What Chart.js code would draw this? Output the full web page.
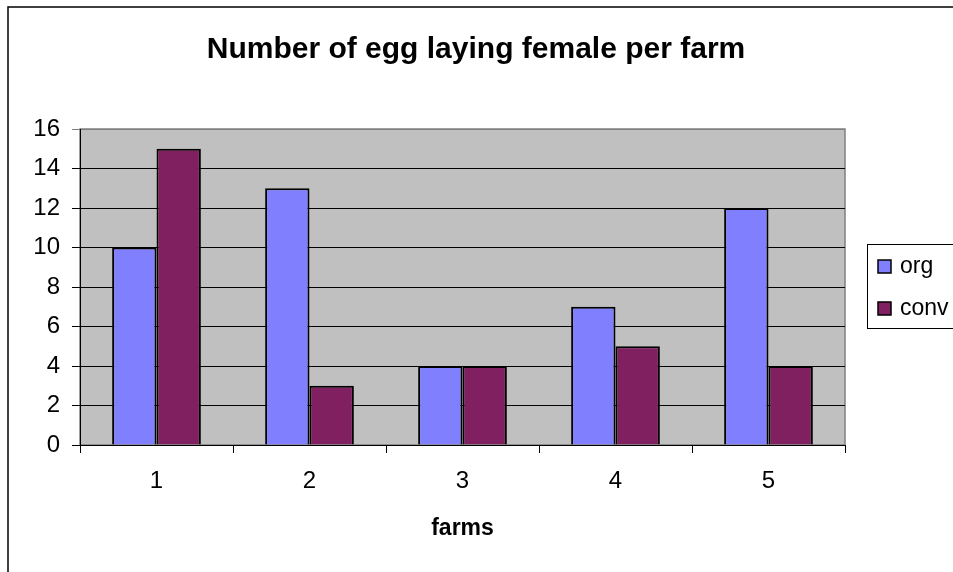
<!DOCTYPE html>
<html>
<head>
<meta charset="utf-8">
<script src="https://cdn.jsdelivr.net/npm/chart.js@4/dist/chart.umd.min.js"></script>
<style>
  html, body { margin: 0; padding: 0; background: #ffffff; overflow: hidden; }
  #wrap { width: 953px; height: 572px; position: relative; }
</style>
</head>
<body>
<div id="wrap"><canvas id="c" width="953" height="572"></canvas></div>
<script>
// Farms on the category axis and egg-laying females counted on each
const farms = ['1', '2', '3', '4', '5'];
const orgCounts = [10, 13, 4, 7, 12];
const convCounts = [15, 3, 4, 5, 4];
const seriesNames = ['org', 'conv'];
const chartTitle = 'Number of egg laying female per farm';
const xAxisTitle = 'farms';

const FONT = '"Liberation Sans", Arial, Helvetica, sans-serif';
const ORG_FILL = '#8080ff';
const CONV_FILL = '#802060';
const PLOT_BG = '#c0c0c0';

// Outer frame, plot background, titles and a framed legend at the right
const decor = {
  id: 'decor',
  beforeDraw(chart) {
    const { ctx, chartArea: a } = chart;
    ctx.save();
    ctx.fillStyle = '#ffffff';
    ctx.fillRect(0, 0, chart.width, chart.height);
    ctx.strokeStyle = '#000000';
    ctx.lineWidth = 1.5;
    ctx.beginPath();
    ctx.moveTo(8, chart.height + 2);
    ctx.lineTo(8, 7);
    ctx.lineTo(chart.width + 2, 7);
    ctx.stroke();
    ctx.fillStyle = PLOT_BG;
    ctx.fillRect(a.left, a.top, a.right - a.left, a.bottom - a.top);
    ctx.strokeStyle = '#808080';
    ctx.lineWidth = 1.5;
    ctx.strokeRect(a.left, a.top, a.right - a.left, a.bottom - a.top);
    ctx.restore();
  },
  afterDraw(chart) {
    const { ctx, chartArea: a } = chart;
    ctx.save();
    ctx.fillStyle = '#000000';
    ctx.textAlign = 'center';
    ctx.textBaseline = 'alphabetic';
    ctx.font = 'bold 30px ' + FONT;
    ctx.fillText(chartTitle, 476, 58);
    ctx.font = 'bold 23px ' + FONT;
    ctx.fillText(xAxisTitle, (a.left + a.right) / 2, 535);

    // legend
    const lx = 867, ly = 244, lw = 100, lh = 84;
    ctx.strokeStyle = '#000000';
    ctx.lineWidth = 1;
    ctx.strokeRect(lx + 0.5, ly + 0.5, lw, lh);
    ctx.font = '23px ' + FONT;
    ctx.textAlign = 'left';
    ctx.textBaseline = 'middle';
    chart.data.datasets.forEach((ds, i) => {
      const cy = 267 + i * 42;
      ctx.fillStyle = ds.backgroundColor;
      ctx.fillRect(878, cy - 7, 13, 13);
      ctx.strokeStyle = '#000000';
      ctx.lineWidth = 1.5;
      ctx.strokeRect(878, cy - 7, 13, 13);
      ctx.fillStyle = '#000000';
      ctx.fillText(ds.label, 900, cy);
    });
    ctx.restore();
  }
};

new Chart(document.getElementById('c'), {
  type: 'bar',
  data: {
    labels: farms,
    datasets: [
      { label: seriesNames[0], data: orgCounts, backgroundColor: ORG_FILL, borderColor: '#000000', borderWidth: 2 },
      { label: seriesNames[1], data: convCounts, backgroundColor: CONV_FILL, borderColor: '#000000', borderWidth: 2 }
    ]
  },
  options: {
    responsive: false,
    animation: false,
    devicePixelRatio: 1,
    layout: { padding: { left: 0, top: 129, right: 108, bottom: 0 } },
    datasets: { bar: { categoryPercentage: 0.58, barPercentage: 1.0 } },
    plugins: {
      legend: { display: false },
      title: { display: false },
      tooltip: { enabled: false }
    },
    scales: {
      x: {
        afterFit(scale) { scale.height = 127; },
        grid: {
          offset: true,
          drawOnChartArea: false,
          drawTicks: true,
          tickLength: 8,
          color: '#000000',
          lineWidth: 1
        },
        border: { display: true, color: '#000000', width: 1 },
        ticks: { color: '#000000', font: { family: FONT, size: 24 }, padding: 14 }
      },
      y: {
        min: 0,
        max: 16,
        afterFit(scale) { scale.width = 80; },
        grid: {
          drawOnChartArea: true,
          drawTicks: true,
          tickLength: 8,
          color: (c) => (c.tick && c.tick.value === 16 ? '#808080' : '#000000'),
          lineWidth: 1
        },
        border: { display: true, color: '#000000', width: 1 },
        ticks: { stepSize: 2, color: '#000000', font: { family: FONT, size: 24 }, padding: 12 }
      }
    }
  },
  plugins: [decor]
});
</script>
</body>
</html>
